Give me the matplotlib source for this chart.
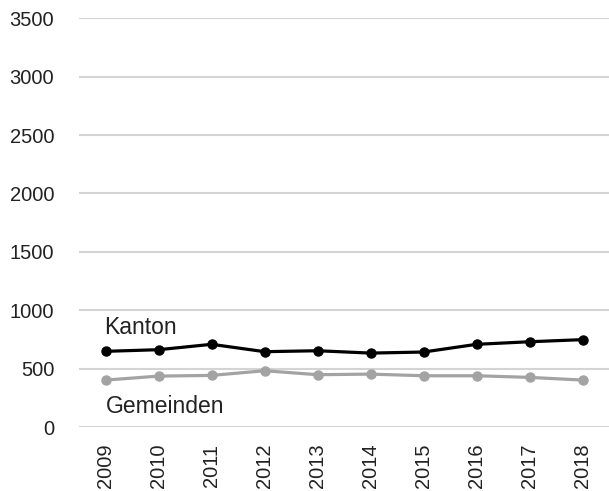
import matplotlib
matplotlib.use("Agg")
import matplotlib.pyplot as plt

# Werte
jahre = ["2009", "2010", "2011", "2012", "2013", "2014", "2015", "2016", "2017", "2018"]
kanton = [649, 663, 709, 646, 654, 634, 643, 709, 731, 749]
gemeinden = [403, 437, 443, 483, 449, 454, 440, 440, 426, 403]
yticks = [0, 500, 1000, 1500, 2000, 2500, 3000, 3500]

plt.rcParams['font.family'] = ['Liberation Sans', 'DejaVu Sans']

fig = plt.figure(figsize=(6.09, 4.91), dpi=100)
ax = fig.add_axes([0.13, 0.13, 0.87, 0.833])

x = list(range(len(jahre)))
ax.plot(x, gemeinden, color='#a3a3a3', lw=2.3, marker='o', ms=6.5, zorder=3)
ax.plot(x, kanton, color='black', lw=2.3, marker='o', ms=6.5, zorder=4)

ax.text(-0.03, 857, "Kanton", fontsize=16.5, color='#222222', va='center', ha='left')
ax.text(0.0, 180, "Gemeinden", fontsize=16.5, color='#222222', va='center', ha='left')

ax.set_xlim(-0.5, len(jahre) - 0.5)
ax.set_ylim(0, 3500)
ax.set_yticks(yticks)
ax.set_xticks(x)
ax.set_xticklabels(jahre, rotation=90)
ax.grid(axis='y', color='#d4d4d4', lw=1.5)
ax.set_axisbelow(True)
for s in ax.spines.values():
    s.set_visible(False)
ax.tick_params(axis='both', length=0, labelsize=14.5, labelcolor='#222222')
ax.tick_params(axis='y', pad=18)
ax.tick_params(axis='x', pad=12)

fig.savefig("out.png", dpi=100)
